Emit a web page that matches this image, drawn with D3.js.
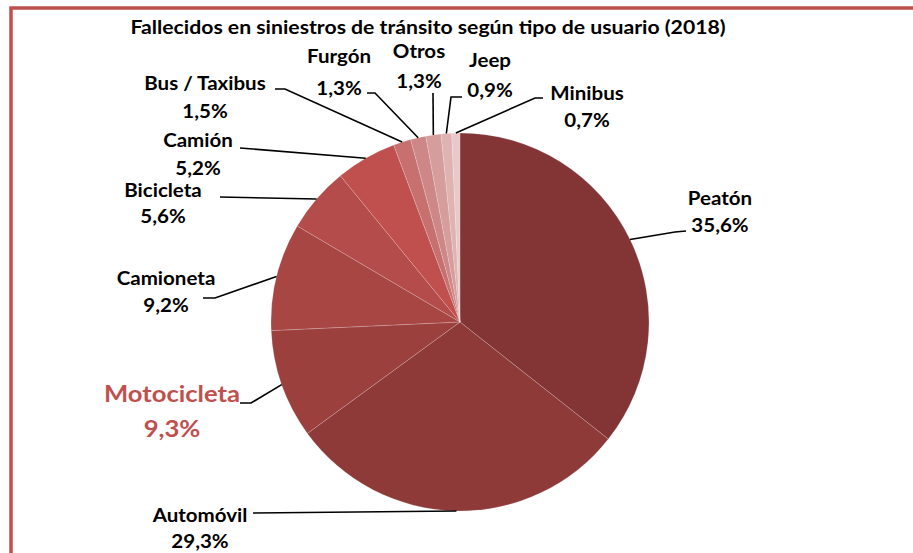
<!DOCTYPE html>
<html><head><meta charset="utf-8">
<script src="https://cdn.jsdelivr.net/npm/d3@7/dist/d3.min.js"></script>
<style>body{margin:0;background:#fff}svg{display:block}text{font-family:Lato,"Open Sans",sans-serif;font-weight:bold}</style>
</head><body>
<script>
const title = "Fallecidos en siniestros de tránsito según tipo de usuario (2018)";
const categories = ["Peatón","Automóvil","Motocicleta","Camioneta","Bicicleta","Camión","Bus / Taxibus","Furgón","Otros","Jeep","Minibus"];
const values = [35.6,29.3,9.3,9.2,5.6,5.2,1.5,1.3,1.3,0.9,0.7];
const colors = ["#833434","#8E3A39","#9C403E","#A84644","#B34C4A","#C0504D","#C6716F","#CD8786","#D59D9C","#DEB3B2","#E8C9C8"];
// label layout: name center/baseline, pct baseline, leader start and optional elbow
const layout = [
  {x:720,y:205,y2:232,s:[686,231],e:[675,232]},
  {x:200,y:522,y2:548,s:[253,513],e:null},
  {x:172,y:402,y2:437,s:[240,403],e:[251,403],hl:true},
  {x:166,y:285,y2:312,s:[203,298],e:[215,298]},
  {x:163,y:197,y2:223,s:[220,197],e:null},
  {x:198,y:147,y2:175,s:[240,148],e:null},
  {x:205,y:90,y2:118,s:[275,89],e:[285,89]},
  {x:339,y:63,y2:95,s:[367,93],e:[375,93]},
  {x:419,y:58,y2:88,s:[433,93],e:null},
  {x:490,y:67,y2:97,s:[462,97],e:[451,97]},
  {x:587,y:100,y2:127,s:[543,98],e:[535,98]}
];
const W=913,H=553,cx=460,cy=322,R=189,SX=1.14;
const svg=d3.select("body").append("svg").attr("width",W).attr("height",H);
svg.append("rect").attr("x",11).attr("y",8).attr("width",W+20).attr("height",H+20)
  .attr("fill","none").attr("stroke","#C0504D").attr("stroke-width",3.5);
function label(x,y,str,fs,col){
  svg.append("text").attr("transform",`translate(${x},${y}) scale(${SX},1)`)
    .attr("text-anchor","middle").style("font-size",fs+"px").attr("fill",col).text(str);
}
label(428,34,title,18.6,"#000");
const data=categories.map((c,i)=>({c,v:values[i],col:colors[i],L:layout[i]}));
const pie=d3.pie().sort(null).value(d=>d.v);
const arcs=pie(data);
const arc=d3.arc().innerRadius(0).outerRadius(R);
const g=svg.append("g").attr("transform",`translate(${cx},${cy})`);
g.selectAll("path").data(arcs).join("path").attr("d",arc)
  .attr("fill",d=>d.data.col).attr("stroke","rgba(255,255,255,0.3)").attr("stroke-width",0.6);
const fmt=v=>d3.format(".1f")(v).replace(".",",")+"%";
arcs.forEach(a=>{
  const L=a.data.L, m=(a.startAngle+a.endAngle)/2;
  const px=cx+R*Math.sin(m), py=cy-R*Math.cos(m);
  const pts=[L.s]; if(L.e) pts.push(L.e); pts.push([px,py]);
  svg.append("path").attr("d",d3.line()(pts)).attr("fill","none").attr("stroke","#000").attr("stroke-width",1.6);
  const fs=L.hl?22.5:18, col=L.hl?"#C0504D":"#000";
  label(L.x,L.y,a.data.c,fs,col);
  label(L.x,L.y2,fmt(a.data.v),fs,col);
});
</script>
</body></html>
